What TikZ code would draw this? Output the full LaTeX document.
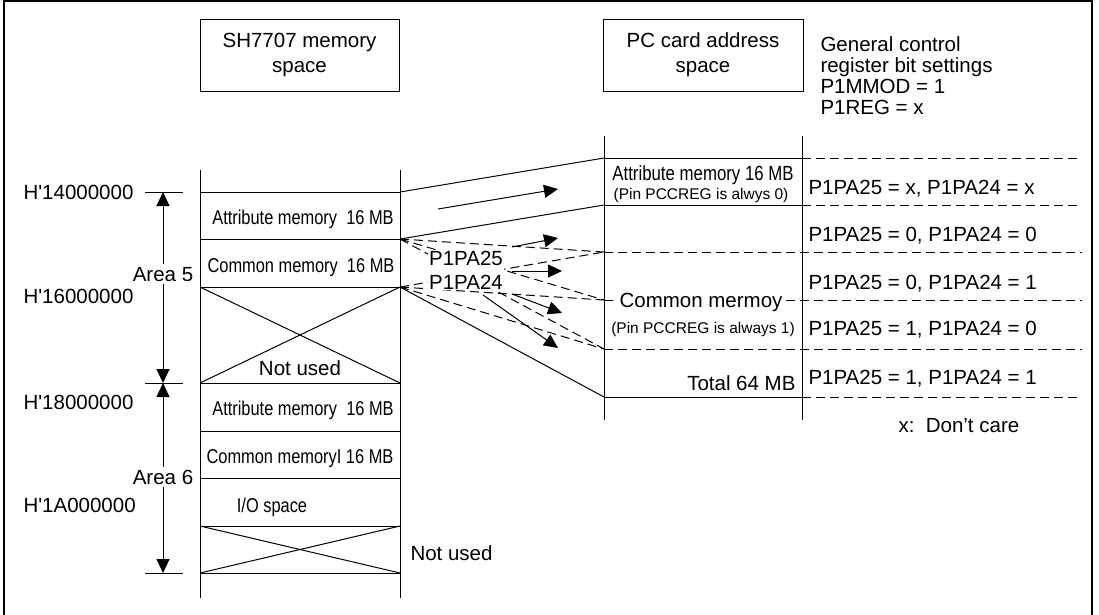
\documentclass[tikz,border=0pt]{standalone}
\usepackage{fontspec}
\setmainfont{Liberation Sans}[Ligatures=TeXOff]
\newfontfamily\narrowfont{Liberation Sans}[FakeStretch=0.82,Ligatures=TeXOff]
\usetikzlibrary{arrows.meta}
\begin{document}
\begin{tikzpicture}[x=1pt,y=-1pt,line width=1pt,
  lbl/.style={inner sep=0pt,font=\fontsize{20.5}{24}\selectfont,text height=14.7pt,text depth=0pt},
  nlbl/.style={inner sep=0pt,font=\narrowfont\fontsize{20}{24}\selectfont,text height=14.3pt,text depth=0pt},
  slbl/.style={inner sep=0pt,font=\fontsize{15.5}{18}\selectfont,text height=11.1pt,text depth=0pt},
  titlebox/.style={draw,inner sep=0pt,minimum height=72pt,align=center,font=\fontsize{20.5}{25}\selectfont},
  dsh/.style={dash pattern=on 9pt off 5pt},
  tipb/.style={-{Triangle[length=14pt,width=13pt]}},
  tipbb/.style={{Triangle[length=14pt,width=13pt]}-{Triangle[length=14pt,width=13pt]}},
  wbg/.style={fill=white}]
\useasboundingbox (0,0) rectangle (1099,614);
% frame
\draw[line width=1.2pt] (4,616) -- (4,1) -- (1092,1) -- (1092,616);

% titles
\node[titlebox,minimum width=199pt] (t1) at (299.5,55) {SH7707 memory\\space};
\node[titlebox,minimum width=200pt] (t2) at (703,55) {PC card address\\space};
\node[lbl,anchor=west] (g1) at (820,44) {General control};
\node[lbl,anchor=west] (g2) at (820,65) {register bit settings};
\node[lbl,anchor=west] (g3) at (820,86) {P1MMOD = 1};
\node[lbl,anchor=west] (g4) at (820,107) {P1REG = x};

% left column
\coordinate (la) at (200,170); \coordinate (lz) at (200,598);
\coordinate (ra) at (400,170); \coordinate (rz) at (400,598);
\draw (la) -- (lz); \draw (ra) -- (rz);
\foreach \y/\n in {192/a,239/b,287/c,383/d,431/e,478/f,526/g,573/h}{
  \coordinate (L\n) at (200,\y); \coordinate (R\n) at (400,\y);
  \draw (L\n) -- (R\n);
}
\draw (Lc) -- (Rd); \draw (Rc) -- (Ld);
\draw (Lg) -- (Rh); \draw (Rg) -- (Lh);

\node[nlbl] (m1) at (303,217) {Attribute memory~~16 MB};
\node[nlbl] (m2) at (301,265) {Common memory~~16 MB};
\node[lbl] (nu1) at (300,368) {Not used};
\node[nlbl] (m3) at (303,408) {Attribute memory~~16 MB};
\node[nlbl] (m4) at (300,456) {Common memoryI 16 MB};
\node[nlbl] (m5) at (272,505) {I/O space};
\node[lbl,anchor=west] (nu2) at (410,553) {Not used};

% address ticks and labels
\coordinate (ka1) at (145,192); \coordinate (ka2) at (183,192);
\coordinate (kb1) at (145,383); \coordinate (kb2) at (183,383);
\coordinate (kc1) at (145,573); \coordinate (kc2) at (183,573);
\draw (ka1) -- (ka2); \draw (kb1) -- (kb2); \draw (kc1) -- (kc2);
\coordinate (aa) at (163,192); \coordinate (ab) at (163,383); \coordinate (ac) at (163,573);
\draw[tipbb] (aa) -- (ab);
\draw[tipbb] (ab) -- (ac);
\node[lbl,wbg,inner ysep=3pt] (ar5) at (163,274) {Area 5};
\node[lbl,wbg,inner ysep=3pt] (ar6) at (163,477) {Area 6};
\node[lbl,anchor=west] (h1) at (23,192) {H\char"27 14000000};
\node[lbl,anchor=west] (h2) at (23,296) {H\char"27 16000000};
\node[lbl,anchor=west] (h3) at (23,402) {H\char"27 18000000};
\node[lbl,anchor=west] (h4) at (23,505) {H\char"27 1A000000};

% PC card column
\draw (604,136) -- (604,420);
\draw (802,136) -- (802,420);
\foreach \y/\n in {158/0,205/1,252/2,300/3,349/4,397/5}{
  \coordinate (P\n) at (604,\y); \coordinate (Q\n) at (802,\y); \coordinate (E\n) at (1082,\y);
}
\draw (P0) -- (Q0); \draw (P1) -- (Q1); \draw (P5) -- (Q5);
\draw[dsh] (Q0) -- (E0);
\draw[dsh] (Q1) -- (E1);
\draw[dsh] (P2) -- (E2);
\draw[dsh] (P3) -- (E3);
\draw[dsh] (P4) -- (E4);
\draw[dsh] (Q5) -- (E5);

% mapping lines
\draw (Ra) -- (P0);
\draw (Rb) -- (P1);
\draw (Rc) -- (P5);
\draw[dsh] (Rb) -- (P2);
\draw[dsh] (Rb) -- (P3);
\draw[dsh] (Rb) -- (P4);
\draw[dsh] (Rc) -- (P2);
\draw[dsh] (Rc) -- (P3);
\draw[dsh] (Rc) -- (P4);

% PC card texts
\node[nlbl,font=\narrowfont\fontsize{20.5}{24}\selectfont] (pa) at (703,173) {Attribute memory 16 MB};
\node[slbl] (pb) at (701,194) {(Pin PCCREG is alwys 0)};
\node[lbl,wbg,inner xsep=3pt,inner ysep=2pt] (pc) at (701,300) {Common mermoy};
\node[slbl] (pd) at (703,328) {(Pin PCCREG is always 1)};
\node[lbl,anchor=east] (pe) at (796,383) {Total 64 MB};

\node[lbl,anchor=west] (s1) at (808,187) {P1PA25 = x, P1PA24 = x};
\node[lbl,anchor=west] (s2) at (808,234) {P1PA25 = 0, P1PA24 = 0};
\node[lbl,anchor=west] (s3) at (808,282) {P1PA25 = 0, P1PA24 = 1};
\node[lbl,anchor=west] (s4) at (808,328) {P1PA25 = 1, P1PA24 = 0};
\node[lbl,anchor=west] (s5) at (808,377) {P1PA25 = 1, P1PA24 = 1};
\node[lbl,anchor=west] (dc) at (898,425) {x:~~Don’t care};

% P1PA labels and arrows
\node[wbg,inner sep=1pt,align=center,font=\fontsize{20.5}{24}\selectfont] (pp) at (466,270) {P1PA25\\P1PA24};
\coordinate (b0s) at (438,209); \coordinate (b0e) at (558,189);
\coordinate (b1s) at (512,247); \coordinate (b1e) at (558,238);
\coordinate (b2s) at (512,271); \coordinate (b2e) at (562,271);
\coordinate (b3s) at (512,294); \coordinate (b3e) at (562,313);
\coordinate (b4s) at (483,295); \coordinate (b4e) at (558,348);
\draw[tipb] (b0s) -- (b0e);
\draw[tipb] (b1s) -- (b1e);
\draw[tipb] (b2s) -- (b2e);
\draw[tipb] (b3s) -- (b3e);
\draw[tipb] (b4s) -- (b4e);
\end{tikzpicture}
\end{document}
